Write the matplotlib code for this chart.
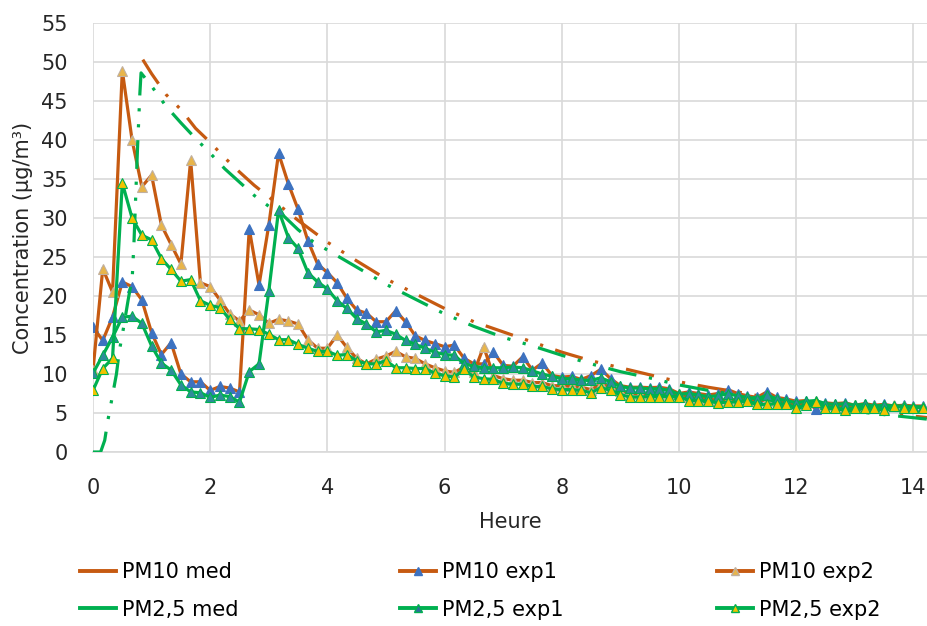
import numpy as np
from matplotlib import pyplot as plt
from matplotlib.lines import Line2D

plt.rcParams['font.family'] = ['DejaVu Sans']

# mesures toutes les 10 minutes
heure = np.arange(86) / 6.0

pm10_exp1 = [16.0, 14.3, 17.3, 21.8, 21.2, 19.5, 15.3, 12.5, 14.0, 10.0,
             9.0, 9.0, 7.9, 8.4, 8.2, 7.7, 28.6, 21.4, 29.1, 38.3,
             34.4, 31.1, 27.1, 24.1, 23.0, 21.7, 19.7, 18.2, 17.8, 16.7,
             16.7, 18.1, 16.7, 14.9, 14.3, 13.9, 13.5, 13.7, 12.0, 11.3,
             11.3, 12.8, 11.1, 11.0, 12.2, 10.5, 11.4, 9.8, 9.6, 9.7,
             9.3, 9.8, 10.6, 9.4, 8.5, 8.3, 8.3, 8.25, 8.3, 8.1,
             7.5, 7.7, 7.5, 7.3, 7.5, 8.0, 7.5, 7.2, 7.0, 7.7,
             7.0, 6.8, 6.5, 6.6, 5.5, 6.3, 6.2, 6.3, 6.0, 6.2,
             6.0, 6.1, 5.9, 6.0, 5.9, 5.9]
pm10_exp2 = [10.5, 23.5, 20.5, 48.9, 40.0, 34.0, 35.5, 29.1, 26.6, 24.1,
             37.4, 21.7, 21.2, 19.5, 17.7, 16.8, 18.2, 17.6, 16.5, 17.0,
             16.8, 16.4, 14.4, 13.3, 13.3, 15.0, 13.4, 12.0, 11.3, 11.9,
             12.3, 12.9, 12.2, 12.0, 11.3, 10.8, 10.4, 10.2, 10.9, 10.2,
             13.5, 9.8, 9.4, 9.2, 9.2, 8.9, 8.9, 8.5, 8.5, 8.4,
             8.3, 8.0, 8.7, 8.3, 7.8, 7.5, 7.4, 7.4, 7.4, 7.3,
             7.4, 7.0, 6.9, 6.8, 6.6, 6.7, 6.7, 6.9, 6.5, 6.7,
             6.5, 6.4, 6.1, 6.3, 6.5, 6.0, 6.0, 5.8, 6.0, 5.9,
             5.9, 5.7, 6.0, 5.9, 5.8, 5.8]
pm25_exp1 = [10.1, 12.4, 14.7, 17.3, 17.4, 16.5, 13.6, 11.4, 10.5, 8.6,
             7.7, 7.6, 7.0, 7.3, 7.1, 6.4, 10.3, 11.3, 20.6, 31.0,
             27.5, 26.1, 23.0, 21.8, 20.9, 19.4, 18.4, 17.1, 16.4, 15.4,
             15.6, 15.1, 14.3, 13.8, 13.3, 12.8, 12.5, 12.4, 11.3, 11.0,
             10.8, 10.8, 10.8, 10.9, 10.8, 10.4, 10.0, 9.7, 9.4, 9.4,
             9.2, 9.2, 9.5, 9.0, 8.4, 8.2, 8.2, 8.1, 8.1, 7.9,
             7.4, 7.5, 7.3, 7.1, 7.2, 7.5, 7.2, 7.0, 6.8, 7.3,
             6.8, 6.6, 6.3, 6.5, 6.6, 6.2, 6.1, 6.2, 6.0, 6.1,
             5.9, 6.0, 5.9, 5.9, 5.8, 5.8]
pm25_exp2 = [7.9, 10.7, 12.0, 34.5, 30.0, 27.8, 27.2, 24.8, 23.4, 21.9,
             22.1, 19.4, 18.8, 18.5, 17.0, 15.8, 15.8, 15.7, 15.1, 14.4,
             14.4, 13.8, 13.3, 12.9, 12.9, 12.4, 12.5, 11.7, 11.3, 11.3,
             11.7, 10.8, 10.8, 10.7, 10.7, 10.1, 9.8, 9.6, 10.6, 9.6,
             9.4, 9.3, 8.8, 8.7, 8.7, 8.4, 8.4, 8.1, 8.0, 8.0,
             7.9, 7.6, 8.25, 7.9, 7.35, 7.05, 7.05, 7.1, 7.1, 7.1,
             7.1, 6.6, 6.6, 6.5, 6.3, 6.4, 6.4, 6.6, 6.1, 6.1,
             6.2, 6.1, 5.7, 6.0, 6.4, 5.7, 5.7, 5.4, 5.7, 5.7,
             5.7, 5.4, 5.9, 5.7, 5.7, 5.7]

# courbes "med"
t_pm10_med = [0.85, 1.0, 1.25, 1.5, 1.75, 2.0, 2.25, 2.5, 2.75, 3.0, 3.25, 3.5,
              3.75, 4.0, 4.5, 5.0, 5.5, 6.0, 6.5, 7.0, 7.5, 8.0, 8.5, 9.0,
              9.5, 10.0, 10.5, 11.0, 11.5, 12.0, 12.5, 13.0, 13.5, 14.0, 14.25]
pm10_med = [50.3, 48.5, 45.8, 43.9, 41.5, 39.7, 37.7, 35.9, 34.2, 32.7, 31.2, 29.7,
            28.3, 26.9, 24.5, 22.2, 20.3, 18.4, 16.7, 15.4, 14.1, 12.8, 11.7, 10.8,
            9.9, 9.0, 8.3, 7.7, 7.0, 6.4, 5.9, 5.4, 5.0, 4.6, 4.4]
t_pm25_med = [0.0, 0.13, 0.2, 0.25, 0.3, 0.4, 0.45, 0.5, 0.6, 0.67, 0.7, 0.73,
              0.76, 0.8, 0.82, 1.0, 1.25, 1.5, 1.75, 2.0, 2.25, 2.5, 2.75, 3.0,
              3.25, 3.5, 3.75, 4.0, 4.5, 5.0, 5.5, 6.0, 6.5, 7.0, 7.5, 8.0,
              8.5, 9.0, 9.5, 10.0, 10.5, 11.0, 11.5, 12.0, 12.5, 13.0, 13.5, 14.0, 14.25]
pm25_med = [0.0, 0.0, 1.5, 3.9, 5.9, 10.0, 13.0, 15.0, 19.5, 22.4, 27.0, 33.0,
            39.0, 46.0, 48.6, 46.9, 44.3, 42.2, 40.2, 38.3, 36.3, 34.6, 32.9, 31.5,
            30.3, 28.5, 27.0, 25.9, 23.7, 21.5, 19.6, 17.7, 16.1, 14.7, 13.6, 12.4,
            11.3, 10.3, 9.5, 8.6, 7.9, 7.3, 6.7, 6.2, 5.7, 5.2, 4.8, 4.4, 4.2]

orange = '#C65A11'
vert = '#00B050'
bleu = '#3D72C0'
texte = '#262626'
motif = (9, 4.0, 1.0, 4.0, 1.0, 4.0)

fig = plt.figure(figsize=(9.28, 6.26), dpi=100)
ax = fig.add_axes([93/928, 1 - 452/626, 1 - 93/928, (452 - 23)/626])

ax.plot(t_pm10_med, pm10_med, color=orange, lw=2.3, dashes=motif, zorder=3)
ax.plot(heure, pm10_exp1, color=orange, lw=2.3, marker='^', ms=7.5,
        mfc=bleu, mec=bleu, mew=0.8, zorder=3)
ax.plot(heure, pm10_exp2, color=orange, lw=2.3, marker='^', ms=7.5,
        mfc='#E8B54A', mec='#C0B0A0', mew=0.8, zorder=3)
ax.plot(t_pm25_med, pm25_med, color=vert, lw=2.3, dashes=motif, zorder=3)
ax.plot(heure, pm25_exp1, color=vert, lw=2.3, marker='^', ms=7.5,
        mfc='#2E8C9A', mec=vert, mew=0.8, zorder=3)
ax.plot(heure, pm25_exp2, color=vert, lw=2.3, marker='^', ms=7.5,
        mfc='#F2C200', mec=vert, mew=0.8, zorder=3)

ax.set_xlim(0, 14.25)
ax.set_ylim(0, 55)
ax.set_xticks(np.arange(0, 15, 2))
ax.set_yticks(np.arange(0, 56, 5))
ax.grid(True, color='#D9D9D9', lw=1.2)
ax.set_axisbelow(True)
for s in ['top', 'right', 'left']:
    ax.spines[s].set_visible(False)
ax.spines['bottom'].set_color('#D9D9D9')
ax.spines['bottom'].set_linewidth(1.2)
ax.tick_params(length=0, labelsize=15, colors=texte)
ax.tick_params(axis='x', pad=19)
ax.tick_params(axis='y', pad=18)
ax.set_xlabel('Heure', fontsize=15, color=texte, labelpad=10)
ax.set_ylabel('Concentration (µg/m³)', fontsize=15, color=texte)
ax.yaxis.set_label_coords(-0.072, 0.5)

# légende en trois colonnes placées à la main
col_x = [80, 400, 717]
series = [[('PM10 med', orange, None, None), ('PM2,5 med', vert, None, None)],
          [('PM10 exp1', orange, bleu, bleu), ('PM2,5 exp1', vert, '#2E6E9A', vert)],
          [('PM10 exp2', orange, '#E8B54A', '#C0B0A0'), ('PM2,5 exp2', vert, '#F2C200', vert)]]
for x0, col in zip(col_x, series):
    h = []
    for nom, c, fc, ec in col:
        if fc is None:
            h.append(Line2D([], [], color=c, lw=2.8))
        else:
            h.append(Line2D([], [], color=c, lw=2.8, marker='^', ms=5.5, mfc=fc, mec=ec))
    fig.legend(h, [e[0] for e in col], loc='upper left',
               bbox_to_anchor=(x0/928, 1 - 562/626), frameon=False, fontsize=15,
               handlelength=1.75, handletextpad=0.25, labelspacing=0.85,
               borderpad=0, borderaxespad=0)

fig.savefig('out.png', dpi=100)
